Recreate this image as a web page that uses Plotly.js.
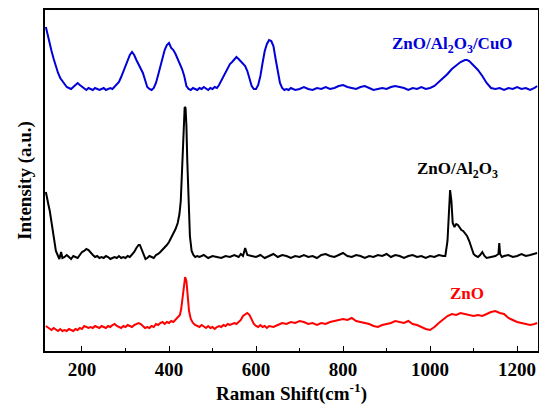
<!DOCTYPE html>
<html>
<head>
<meta charset="utf-8">
<script src="https://cdn.plot.ly/plotly-3.0.1.min.js"></script>
<style>html,body{margin:0;padding:0;background:#fff;}#chart{width:539px;height:410px;}</style>
</head>
<body>
<div id="chart"></div>
<script>
// ZnO/Al2O3/CuO (blue, offset top)
const cuoShift = [117,120,125,130,135,140,145,150,155,160,165,170,175,180,185,190,195,200,205,210,215,220,225,230,235,240,245,250,255,260,265,270,275,280,285,290,295,300,305,310,315,320,325,330,335,340,345,350,355,360,365,370,375,380,385,390,395,400,405,410,415,420,425,430,435,440,445,450,455,460,465,470,475,480,485,490,495,500,505,510,515,520,525,530,535,540,545,550,555,560,565,570,575,580,585,590,595,600,605,610,615,620,625,630,635,640,645,650,655,660,665,670,675,680,690,700,710,720,730,740,750,760,770,780,790,800,810,820,830,840,850,860,870,880,890,900,910,920,930,940,950,960,970,980,990,1000,1010,1020,1030,1040,1050,1060,1070,1080,1085,1090,1100,1110,1120,1130,1140,1150,1160,1170,1180,1190,1200,1210,1220,1230,1240,1246];
const cuoInt = [324,318,310,300,292,284,278,273,270,266,264,263,262,264,266,268,266,264,262,261,263,262,261,263,262,261,262,263,261,262,263,262,264,266,269,274,280,285,291,296,299,296,291,287,283,278,271,264,262,261,263,268,276,285,294,301,306,308,303,301,297,292,287,282,275,265,262,261,263,262,261,263,262,264,262,261,263,262,264,263,266,270,274,279,283,287,289,292,294,292,290,287,285,280,273,265,262,262,266,275,288,300,307,311,310,305,292,278,268,263,261,262,261,263,261,262,264,262,261,263,262,264,262,263,265,266,264,263,262,264,265,263,261,262,263,262,264,265,264,263,261,263,262,264,262,263,265,269,272,277,282,286,289,291,291,290,286,281,275,268,263,262,263,261,263,262,264,262,263,261,263,265];

// ZnO/Al2O3 (black, middle)
const alShift = [117,120,123,126,130,135,140,145,148,152,155,160,165,170,175,180,185,190,195,200,205,210,215,220,225,230,235,240,245,250,255,260,265,270,275,280,285,290,295,300,305,310,315,320,325,330,333,337,342,346,350,355,360,365,370,375,380,385,390,395,400,405,410,415,420,424,427,430,433,436,438,440,442,445,448,452,456,460,465,470,480,490,500,510,520,530,540,550,560,565,570,575,580,590,600,610,620,630,640,650,660,670,680,690,700,710,720,730,740,750,760,770,780,790,800,810,820,830,840,850,860,870,880,890,900,910,920,930,940,950,960,970,980,990,1000,1010,1020,1030,1035,1040,1043,1046,1049,1052,1056,1060,1064,1068,1072,1076,1080,1085,1090,1095,1100,1105,1110,1115,1120,1125,1130,1140,1150,1157,1159,1161,1165,1170,1180,1190,1200,1210,1220,1230,1240,1246];
const alInt = [159,150,146,140,128,112,100,95,92,99,93,94,96,94,92,95,94,93,96,99,100,102,101,98,96,94,95,93,94,93,95,94,92,93,94,93,95,93,94,93,95,94,96,99,103,106,106,101,96,92,93,95,94,93,96,97,99,101,104,106,109,113,117,122,128,137,150,180,220,244,243,225,190,150,115,100,96,94,95,94,96,93,95,94,93,95,94,96,94,97,95,103,96,95,94,96,93,95,97,94,96,95,93,95,94,96,94,95,93,96,97,95,94,96,98,95,94,96,95,93,95,94,96,95,97,94,96,95,93,95,96,94,95,93,95,94,96,95,95,110,140,161,150,128,124,127,126,123,121,120,118,115,110,103,97,95,94,96,99,95,93,94,95,97,108,97,94,95,96,94,95,97,95,96,97,98];

// ZnO (red, bottom)
const znoShift = [117,120,125,130,135,140,145,150,155,160,165,170,175,180,185,190,195,200,205,210,215,220,225,230,235,240,245,250,255,260,265,270,275,280,285,290,295,300,305,310,315,320,325,330,335,340,345,350,355,360,365,370,375,380,385,390,395,400,405,410,415,420,425,428,431,434,437,440,443,446,450,455,460,465,470,475,480,485,490,495,500,505,510,515,520,525,530,535,540,545,550,555,560,565,570,575,580,585,590,595,600,605,610,615,620,625,630,640,650,660,670,680,690,700,710,720,730,740,750,760,770,780,790,800,810,820,830,840,850,860,870,880,890,900,910,920,930,940,950,960,970,980,990,1000,1010,1020,1030,1040,1050,1060,1070,1080,1090,1100,1110,1120,1130,1140,1150,1160,1170,1180,1190,1200,1210,1220,1230,1240,1246];
const znoInt = [25,24,22,21,23,21,20,22,20,21,20,22,21,20,22,21,23,22,25,24,23,24,23,25,24,23,25,24,23,25,24,26,27,25,24,23,25,24,26,25,24,26,27,28,27,25,23,24,23,25,24,27,26,28,29,27,29,28,30,29,31,33,36,42,52,65,74,70,55,40,32,28,26,25,24,26,24,23,25,23,24,22,24,25,24,26,25,27,26,27,28,27,29,31,35,37,38,36,31,27,25,24,26,24,25,23,25,24,26,28,27,29,28,30,29,27,28,26,28,27,29,30,31,32,31,33,30,29,28,27,25,24,26,27,28,30,29,28,30,27,26,24,22,21,24,28,32,35,37,36,38,37,36,35,36,35,37,39,40,38,37,33,31,29,28,27,26,27,28];

const labels = ["ZnO/Al<sub>2</sub>O<sub>3</sub>/CuO", "ZnO/Al<sub>2</sub>O<sub>3</sub>", "ZnO"];
const colors = ["rgb(0,0,215)", "#000000", "#ff0000"];

const fam = 'Liberation Serif';
const traces = [
  {x: cuoShift, y: cuoInt, name: labels[0]},
  {x: alShift, y: alInt, name: labels[1]},
  {x: znoShift, y: znoInt, name: labels[2]}
].map((t, i) => Object.assign(t, {type: 'scatter', mode: 'lines', line: {color: colors[i], width: 2}, showlegend: false}));

const layout = {
  width: 539, height: 410,
  margin: {l: 45, r: 1, t: 10, b: 59},
  xaxis: {
    range: [115, 1248], dtick: 200,
    ticks: 'inside', ticklen: 5, tickcolor: '#000',
    minor: {ticks: 'inside', ticklen: 3, dtick: 100, tickcolor: '#000'},
    showline: true, linecolor: '#000', linewidth: 2, mirror: true,
    showgrid: false, zeroline: false,
    tickfont: {family: fam, size: 19, color: '#000', weight: 'bold'},
    title: {text: 'Raman Shift(cm<sup>-1</sup>)', font: {family: fam, size: 19, color: '#000', weight: 'bold'}, standoff: 8}
  },
  yaxis: {
    range: [0, 341], showticklabels: false, ticks: '',
    showline: true, linecolor: '#000', linewidth: 2, mirror: true,
    showgrid: false, zeroline: false,
    title: {text: 'Intensity (a.u.)', font: {family: fam, size: 19, color: '#000', weight: 'bold'}, standoff: 6}
  },
  annotations: [
    {x: 1051, y: 306, xref: 'x', yref: 'y', text: labels[0], showarrow: false, font: {family: fam, size: 17, color: colors[0], weight: 'bold'}},
    {x: 1064, y: 181, xref: 'x', yref: 'y', text: labels[1], showarrow: false, font: {family: fam, size: 17, color: colors[1], weight: 'bold'}},
    {x: 1085, y: 58, xref: 'x', yref: 'y', text: labels[2], showarrow: false, font: {family: fam, size: 17, color: colors[2], weight: 'bold'}}
  ]
};

Plotly.newPlot('chart', traces, layout, {displayModeBar: false}).then(function () {
  document.querySelectorAll('#chart svg text').forEach(function (t) {
    t.style.fontFamily = "'Liberation Serif'";
    t.style.fontWeight = 'bold';
  });
});
</script>
</body>
</html>
